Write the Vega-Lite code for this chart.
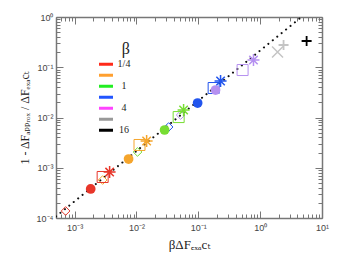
{
  "$schema": "https://vega.github.io/schema/vega-lite/v6.json",
  "width": 266,
  "height": 201,
  "autosize": {"type": "none"},
  "padding": {"left": 56, "top": 17, "right": 16, "bottom": 36},
  "background": "white",
  "config": {"view": {"stroke": null}},
  "datasets": {
    "pts": [
      {"beta": "1/4", "marker": "diamond", "x": 0.000715, "y": 0.000138},
      {"beta": "1/4", "marker": "circle", "x": 0.00182, "y": 0.000378},
      {"beta": "1/4", "marker": "square", "x": 0.00284, "y": 0.000655},
      {"beta": "1/4", "marker": "star", "x": 0.00368, "y": 0.00082},
      {"beta": "1/2", "marker": "diamond", "x": 0.00284, "y": 0.00057},
      {"beta": "1/2", "marker": "circle", "x": 0.00746, "y": 0.00149},
      {"beta": "1/2", "marker": "square", "x": 0.0112, "y": 0.00284},
      {"beta": "1/2", "marker": "star", "x": 0.0146, "y": 0.0034},
      {"beta": "1", "marker": "diamond", "x": 0.0104, "y": 0.00206},
      {"beta": "1", "marker": "circle", "x": 0.0285, "y": 0.00564},
      {"beta": "1", "marker": "square", "x": 0.0481, "y": 0.0102},
      {"beta": "1", "marker": "star", "x": 0.0578, "y": 0.0141},
      {"beta": "2", "marker": "diamond", "x": 0.0331, "y": 0.00647},
      {"beta": "2", "marker": "circle", "x": 0.0975, "y": 0.0194},
      {"beta": "2", "marker": "square", "x": 0.177, "y": 0.0386},
      {"beta": "2", "marker": "star", "x": 0.229, "y": 0.0532},
      {"beta": "4", "marker": "diamond", "x": 0.0518, "y": 0.0112},
      {"beta": "4", "marker": "circle", "x": 0.19, "y": 0.0352},
      {"beta": "4", "marker": "square", "x": 0.52, "y": 0.088},
      {"beta": "4", "marker": "star", "x": 0.78, "y": 0.139},
      {"beta": "8", "marker": "x", "x": 1.91, "y": 0.201},
      {"beta": "8", "marker": "plus", "x": 2.39, "y": 0.277},
      {"beta": "16", "marker": "plus", "x": 5.64, "y": 0.333}
    ],
    "fit": [
      {"x": 0.0005, "y": 0.0001075},
      {"x": 4.65, "y": 1.0}
    ]
  },
  "resolve": {"axis": {"x": "independent", "y": "independent"}},
  "layer": [
    {
      "data": {"name": "fit"},
      "mark": {"type": "line", "color": "#111", "strokeWidth": 2, "strokeDash": [0.1, 5.6], "strokeCap": "round", "clip": true},
      "encoding": {
        "x": {"field": "x", "type": "quantitative",
          "scale": {"type": "log", "domain": [0.0005, 10], "nice": false, "zero": false},
          "axis": {
            "orient": "bottom",
            "values": [0.0005,0.0006,0.0007,0.0008,0.0009,0.001,0.002,0.003,0.004,0.005,0.006,0.007,0.008,0.009,0.01,0.02,0.03,0.04,0.05,0.06,0.07,0.08,0.09,0.1,0.2,0.3,0.4,0.5,0.6,0.7,0.8,0.9,1,2,3,4,5,6,7,8,9,10],
            "labelExpr": "abs(log(datum.value)/LN10 - round(log(datum.value)/LN10)) > 0.001 ? '' : (round(log(datum.value)/LN10) == -3 ? '10⁻³' : round(log(datum.value)/LN10) == -2 ? '10⁻²' : round(log(datum.value)/LN10) == -1 ? '10⁻¹' : round(log(datum.value)/LN10) == 0 ? '10⁰' : round(log(datum.value)/LN10) == 1 ? '10¹' : '')",
            "labelOverlap": false, "labelFlush": false,
            "labelFont": "Liberation Sans", "labelFontSize": 9, "labelColor": "#444",
            "labelPadding": 12,
            "tickSize": {"condition": {"test": "abs(log(datum.value)/LN10 - round(log(datum.value)/LN10)) < 0.001", "value": -7}, "value": -4},
            "tickColor": "#777", "tickWidth": 1,
            "domainColor": "#777", "domainWidth": 1.5,
            "grid": false,
            "title": "βΔFₑₓₐcₜ",
            "titleFont": "Liberation Serif, DejaVu Serif Condensed, DejaVu Sans Condensed, DejaVu Serif",
            "titleFontSize": 13, "titleFontWeight": "normal", "titleColor": "#222",
            "titlePadding": 3
          }
        },
        "y": {"field": "y", "type": "quantitative",
          "scale": {"type": "log", "domain": [0.0001, 1], "nice": false, "zero": false},
          "axis": {
            "orient": "left",
            "values": [0.0001,0.0002,0.0003,0.0004,0.0005,0.0006,0.0007,0.0008,0.0009,0.001,0.002,0.003,0.004,0.005,0.006,0.007,0.008,0.009,0.01,0.02,0.03,0.04,0.05,0.06,0.07,0.08,0.09,0.1,0.2,0.3,0.4,0.5,0.6,0.7,0.8,0.9,1],
            "labelExpr": "abs(log(datum.value)/LN10 - round(log(datum.value)/LN10)) > 0.001 ? '' : (round(log(datum.value)/LN10) == -4 ? '10⁻⁴' : round(log(datum.value)/LN10) == -3 ? '10⁻³' : round(log(datum.value)/LN10) == -2 ? '10⁻²' : round(log(datum.value)/LN10) == -1 ? '10⁻¹' : round(log(datum.value)/LN10) == 0 ? '10⁰' : '')",
            "labelOverlap": false, "labelFlush": false,
            "labelFont": "Liberation Sans", "labelFontSize": 9, "labelColor": "#444",
            "labelPadding": 10,
            "tickSize": {"condition": {"test": "abs(log(datum.value)/LN10 - round(log(datum.value)/LN10)) < 0.001", "value": -7}, "value": -4},
            "tickColor": "#777", "tickWidth": 1,
            "domainColor": "#777", "domainWidth": 1.5,
            "grid": false,
            "title": "1 - ΔFₐₚₚᵣₒₓ / ΔFₑₓₐcₜ",
            "titleFont": "Liberation Serif, DejaVu Serif Condensed, DejaVu Sans Condensed, DejaVu Serif",
            "titleFontSize": 12, "titleFontWeight": "normal", "titleColor": "#222",
            "titlePadding": 5
          }
        }
      }
    },
    {
      "data": {"name": "pts"},
      "mark": {"type": "point", "size": 0},
      "transform": [{"filter": "datum.beta == 'none'"}],
      "encoding": {
        "x": {"field": "x", "type": "quantitative", "axis": null},
        "y": {"field": "y", "type": "quantitative", "axis": null},
        "stroke": {"field": "beta", "type": "nominal",
          "scale": {"domain": ["1/4", "1/2", "1", "2", "4", "8", "16"], "range": ["#ff2a1a", "#ffa030", "#22ee22", "#2255ff", "#ff44ff", "#999999", "#000000"]},
          "legend": {
            "orient": "none", "legendX": 43, "legendY": 24, "padding": 0,
            "title": "β", "titleFont": "Liberation Serif", "titleFontSize": 16, "titleFontWeight": "normal", "titleColor": "#222", "titleAnchor": "end", "titlePadding": 4,
            "symbolType": "M-3,0L3,0", "symbolSize": 36, "symbolStrokeWidth": 3, "symbolOpacity": 1,
            "labelExpr": "datum.label == '1/2' || datum.label == '2' || datum.label == '8' ? '' : datum.label",
            "labelFont": "Liberation Serif", "labelFontSize": 10, "labelColor": "#222", "labelAlign": "center", "labelOffset": 15,
            "clipHeight": 6.67, "rowPadding": 0
          }
        }
      }
    },
    {
      "data": {"name": "pts"},
      "transform": [{"filter": "datum.marker == 'diamond'"}],
      "mark": {"type": "point", "shape": "diamond", "filled": false, "size": 75, "strokeWidth": 1, "opacity": 1},
      "encoding": {
        "x": {"field": "x", "type": "quantitative", "axis": null},
        "y": {"field": "y", "type": "quantitative", "axis": null},
        "color": {"field": "beta", "type": "nominal", "legend": null,
          "scale": {"domain": ["1/4", "1/2", "1", "2", "4", "8", "16"], "range": ["#e8362a", "#f5a52c", "#77dd33", "#2255ee", "#b590f0", "#c4c4c4", "#000000"]}}
      }
    },
    {
      "data": {"name": "pts"},
      "transform": [{"filter": "datum.marker == 'square'"}],
      "mark": {"type": "point", "shape": "square", "filled": false, "size": 121, "strokeWidth": 1, "opacity": 1},
      "encoding": {
        "x": {"field": "x", "type": "quantitative", "axis": null},
        "y": {"field": "y", "type": "quantitative", "axis": null},
        "color": {"field": "beta", "type": "nominal", "legend": null}
      }
    },
    {
      "data": {"name": "pts"},
      "transform": [{"filter": "datum.marker == 'circle'"}],
      "mark": {"type": "point", "shape": "circle", "filled": true, "size": 95, "opacity": 1},
      "encoding": {
        "x": {"field": "x", "type": "quantitative", "axis": null},
        "y": {"field": "y", "type": "quantitative", "axis": null},
        "color": {"field": "beta", "type": "nominal", "legend": null}
      }
    },
    {
      "data": {"name": "pts"},
      "transform": [{"filter": "datum.marker == 'star'"}],
      "mark": {"type": "point", "shape": "M-1,0L1,0M0,-1L0,1M-0.7,-0.7L0.7,0.7M-0.7,0.7L0.7,-0.7", "filled": false, "size": 144, "strokeWidth": 1.5, "opacity": 1},
      "encoding": {
        "x": {"field": "x", "type": "quantitative", "axis": null},
        "y": {"field": "y", "type": "quantitative", "axis": null},
        "color": {"field": "beta", "type": "nominal", "legend": null}
      }
    },
    {
      "data": {"name": "pts"},
      "transform": [{"filter": "datum.marker == 'x'"}],
      "mark": {"type": "point", "shape": "M-1,-1L1,1M-1,1L1,-1", "filled": false, "size": 121, "strokeWidth": 1.5, "opacity": 1},
      "encoding": {
        "x": {"field": "x", "type": "quantitative", "axis": null},
        "y": {"field": "y", "type": "quantitative", "axis": null},
        "color": {"field": "beta", "type": "nominal", "legend": null}
      }
    },
    {
      "data": {"name": "pts"},
      "transform": [{"filter": "datum.marker == 'plus'"}],
      "mark": {"type": "point", "shape": "M-1,0L1,0M0,-1L0,1", "filled": false, "size": 100, "strokeWidth": 1.8, "opacity": 1},
      "encoding": {
        "x": {"field": "x", "type": "quantitative", "axis": null},
        "y": {"field": "y", "type": "quantitative", "axis": null},
        "color": {"field": "beta", "type": "nominal", "legend": null}
      }
    },
    {
      "data": {"name": "fit"},
      "mark": {"type": "point", "size": 0, "opacity": 0},
      "encoding": {
        "x": {"field": "x", "type": "quantitative",
          "axis": {
            "orient": "top",
            "values": [0.0005,0.0006,0.0007,0.0008,0.0009,0.001,0.002,0.003,0.004,0.005,0.006,0.007,0.008,0.009,0.01,0.02,0.03,0.04,0.05,0.06,0.07,0.08,0.09,0.1,0.2,0.3,0.4,0.5,0.6,0.7,0.8,0.9,1,2,3,4,5,6,7,8,9,10],
            "labels": false, "title": null, "grid": false,
            "tickSize": {"condition": {"test": "abs(log(datum.value)/LN10 - round(log(datum.value)/LN10)) < 0.001", "value": -7}, "value": -4},
            "tickColor": "#777", "tickWidth": 1,
            "domainColor": "#777", "domainWidth": 1.5
          }
        },
        "y": {"field": "y", "type": "quantitative",
          "axis": {
            "orient": "right",
            "values": [0.0001,0.0002,0.0003,0.0004,0.0005,0.0006,0.0007,0.0008,0.0009,0.001,0.002,0.003,0.004,0.005,0.006,0.007,0.008,0.009,0.01,0.02,0.03,0.04,0.05,0.06,0.07,0.08,0.09,0.1,0.2,0.3,0.4,0.5,0.6,0.7,0.8,0.9,1],
            "labels": false, "title": null, "grid": false,
            "tickSize": {"condition": {"test": "abs(log(datum.value)/LN10 - round(log(datum.value)/LN10)) < 0.001", "value": -7}, "value": -4},
            "tickColor": "#777", "tickWidth": 1,
            "domainColor": "#777", "domainWidth": 1.5
          }
        }
      }
    }
  ]
}
